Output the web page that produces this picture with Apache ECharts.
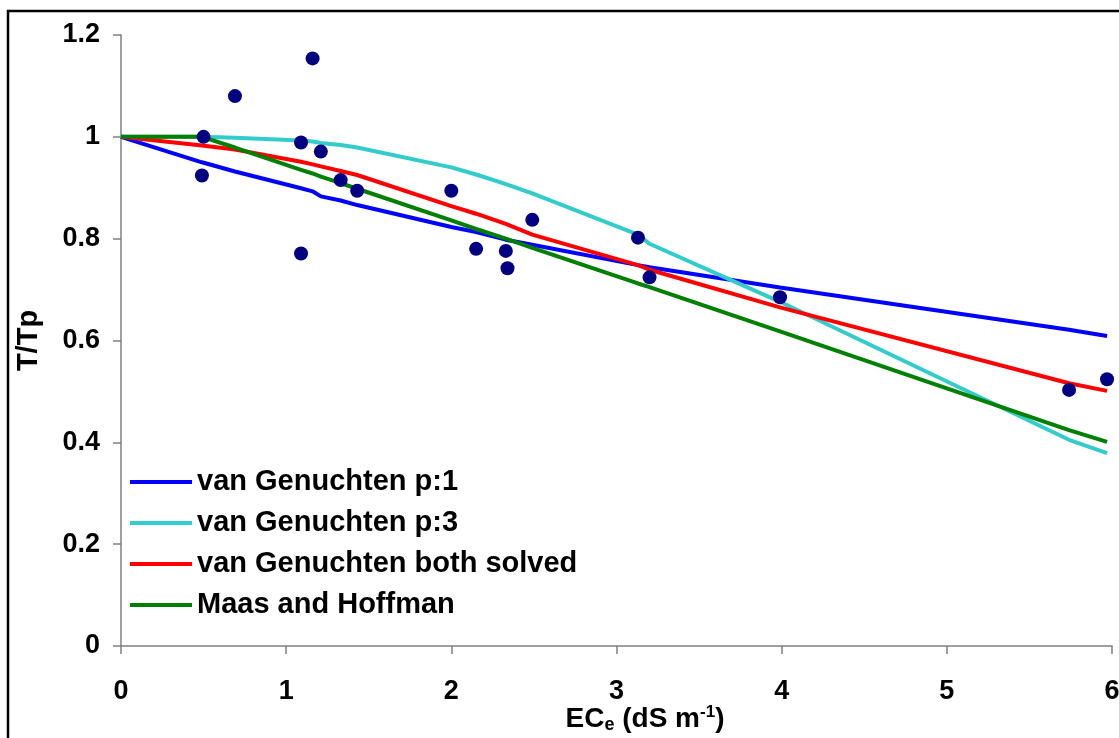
<!DOCTYPE html>
<html>
<head>
<meta charset="utf-8">
<script src="https://cdn.jsdelivr.net/npm/echarts@6/dist/echarts.min.js"></script>
<style>
  html, body { margin: 0; padding: 0; background: #ffffff; }
  #chart { width: 1119px; height: 738px; }
</style>
</head>
<body>
<div id="chart"></div>
<script>
// Measured relative transpiration (T/Tp) against soil salinity ECe (dS/m)
const ecValues = [0.50, 0.49, 0.69, 1.16, 1.09, 1.21, 1.33, 1.43, 1.09, 2.00,
                  2.15, 2.33, 2.34, 2.49, 3.13, 3.20, 3.99, 5.74, 5.97];
const observedTTp = [1.000, 0.924, 1.080, 1.154, 0.989, 0.971, 0.915, 0.894, 0.771, 0.894,
                     0.780, 0.776, 0.742, 0.837, 0.802, 0.724, 0.685, 0.503, 0.524];

// Fitted response curves, evaluated at the measured salinities
const curveEc = [0, 0.49, 0.50, 0.69, 1.09, 1.16, 1.21, 1.33, 1.43, 2.00,
                 2.15, 2.33, 2.34, 2.49, 3.13, 3.20, 3.99, 5.74, 5.97];
const vgP1 = [1.000, 0.950, 0.949, 0.932, 0.899, 0.893, 0.883, 0.875, 0.866, 0.823,
              0.813, 0.798, 0.797, 0.788, 0.748, 0.744, 0.704, 0.621, 0.609];
const vgP3 = [1.000, 1.000, 1.000, 0.998, 0.993, 0.991, 0.988, 0.984, 0.979, 0.940,
              0.926, 0.907, 0.905, 0.889, 0.808, 0.790, 0.676, 0.405, 0.379];
const vgBoth = [1.000, 0.983, 0.982, 0.975, 0.951, 0.946, 0.942, 0.933, 0.925, 0.864,
                0.849, 0.829, 0.827, 0.808, 0.748, 0.739, 0.665, 0.516, 0.501];
const maasHoffman = [1.000, 1.000, 1.000, 0.979, 0.935, 0.928, 0.922, 0.909, 0.898, 0.836,
                     0.819, 0.800, 0.799, 0.782, 0.712, 0.705, 0.618, 0.424, 0.401];

const seriesNames = ['van Genuchten p:1', 'van Genuchten p:3',
                     'van Genuchten both solved', 'Maas and Hoffman'];
const seriesColors = ['#0000ff', '#33cccc', '#ff0000', '#008000'];
const curves = [vgP1, vgP3, vgBoth, maasHoffman];

const FONT = 'Liberation Sans, Arial, Helvetica, sans-serif';

function pairs(xs, ys) {
  return xs.map((x, i) => [x, ys[i]]);
}

const chart = echarts.init(document.getElementById('chart'));

const lineSeries = curves.map((ys, i) => ({
  name: seriesNames[i],
  type: 'line',
  data: pairs(curveEc, ys),
  showSymbol: false,
  symbol: 'none',
  smooth: false,
  lineStyle: { color: seriesColors[i], width: 4 },
  itemStyle: { color: seriesColors[i] },
  emphasis: { disabled: true },
  z: 2
}));

chart.setOption({
  animation: false,
  backgroundColor: '#ffffff',
  textStyle: { fontFamily: FONT },
  grid: { left: 121, right: 7, top: 35, bottom: 92, containLabel: false, outerBoundsMode: 'none' },
  graphic: [{
    type: 'rect',
    shape: { x: 8, y: 11, width: 1200, height: 800 },
    style: { fill: 'none', stroke: '#000000', lineWidth: 2.5 },
    silent: true
  }],
  legend: {
    orient: 'vertical',
    left: 125,
    top: 461,
    icon: 'rect',
    itemWidth: 62,
    itemHeight: 4,
    itemGap: 9,
    data: seriesNames,
    textStyle: { fontFamily: FONT, fontSize: 29, fontWeight: 'bold', color: '#000000', lineHeight: 32 }
  },
  xAxis: {
    type: 'value',
    min: 0,
    max: 6,
    interval: 1,
    name: 'EC{sub|e} (dS m{sup|-1})',
    nameLocation: 'middle',
    nameGap: 58,
    nameMoveOverlap: false,
    nameTextStyle: {
      fontFamily: FONT, fontSize: 28, fontWeight: 'bold', color: '#000000',
      lineHeight: 30, padding: [0, 0, 0, 57],
      rich: {
        sub: { fontFamily: FONT, fontSize: 18, fontWeight: 'bold', color: '#000000', verticalAlign: 'bottom', lineHeight: 30, padding: [12, 0, 0, 0] },
        sup: { fontFamily: FONT, fontSize: 17, fontWeight: 'bold', color: '#000000', verticalAlign: 'top', lineHeight: 30, padding: [0, 0, 9, 0] }
      }
    },
    axisLine: { show: true, onZero: false, lineStyle: { color: '#808080', width: 1.5 } },
    axisTick: { show: true, inside: false, length: 8, lineStyle: { color: '#808080', width: 1.5 } },
    axisLabel: { margin: 32, fontFamily: FONT, fontSize: 27, fontWeight: 'bold', color: '#000000' },
    splitLine: { show: false }
  },
  yAxis: {
    type: 'value',
    min: 0,
    max: 1.2,
    interval: 0.2,
    name: 'T/Tp',
    nameLocation: 'middle',
    nameGap: 78,
    nameMoveOverlap: false,
    nameRotate: 90,
    nameTextStyle: { fontFamily: FONT, fontSize: 29, fontWeight: 'bold', color: '#000000' },
    axisLine: { show: true, onZero: false, lineStyle: { color: '#808080', width: 1.5 } },
    axisTick: { show: true, inside: false, length: 8, lineStyle: { color: '#808080', width: 1.5 } },
    axisLabel: { margin: 21, padding: [4, 0, 0, 0], fontFamily: FONT, fontSize: 27, fontWeight: 'bold', color: '#000000' },
    splitLine: { show: false }
  },
  series: lineSeries.concat([{
    name: 'Observed',
    type: 'scatter',
    data: pairs(ecValues, observedTTp),
    symbol: 'circle',
    symbolSize: 14,
    itemStyle: { color: '#000080', opacity: 1 },
    emphasis: { disabled: true },
    z: 3
  }])
});
</script>
</body>
</html>
